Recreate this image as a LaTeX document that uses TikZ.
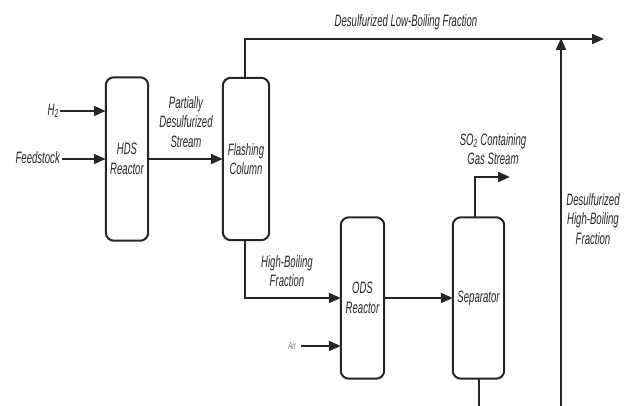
\documentclass[tikz,border=0pt]{standalone}
\usepackage{fontspec}
\setmainfont{Liberation Sans}[ItalicFeatures={FakeStretch=0.58}, UprightFeatures={FakeStretch=0.58}]
\usetikzlibrary{arrows.meta}
\begin{document}
\begin{tikzpicture}[x=1pt,y=-1pt,
  unit/.style={inner sep=0pt, align=center, text=black!85, font=\fontsize{16.5}{19.5}\selectfont\itshape},
  box/.style={draw=black!85, line width=2pt, rounded corners=8pt},
  lbl/.style={inner sep=0pt, align=center, text=black!85, font=\fontsize{16.5}{19.5}\selectfont\itshape},
  arr/.style={draw=black!85, line width=2pt, -{Triangle[length=12pt,width=10pt]}},
  ln/.style={draw=black!85, line width=2pt}]
\useasboundingbox (0,0) rectangle (627,406);
% units
\node[unit, minimum width=42pt, minimum height=163pt] (hds) at (127,159) {HDS\\Reactor};
\node[unit, minimum width=46pt, minimum height=162pt] (fc) at (246,159) {Flashing\\Column};
\node[unit, minimum width=43pt, minimum height=161pt] (ods) at (362.5,298) {ODS\\Reactor};
\node[unit, minimum width=51pt, minimum height=161pt] (sep) at (478.5,298) {Separator};
\foreach \n in {hds,fc,ods,sep} \draw[box] (\n.north west) rectangle (\n.south east);
% coordinates
\coordinate (h2s) at (60,111);
\coordinate (feeds) at (62,159);
\coordinate (lowend) at (604,39);
\coordinate (airs) at (301,346);
\coordinate (gasend) at (510,177);
\coordinate (sepbot) at (478.5,407);
\coordinate (hbbot) at (561,407);
\coordinate (hbtop) at (561,39);
% connectors
\draw[arr] (h2s) -- (h2s -| hds.west);
\draw[arr] (feeds) -- (feeds -| hds.west);
\draw[arr] (hds.east) -- (hds.east -| fc.west);
\draw[arr] ([xshift=-1.5pt]fc.north) |- (lowend);
\draw[arr] ([xshift=-1.5pt]fc.south) |- (ods.west);
\draw[arr] (airs) -- (airs -| ods.west);
\draw[arr] (ods.east) -- (sep.west);
\draw[arr] ([xshift=-3.5pt]sep.north) |- (gasend);
\draw[ln] (sep.south) -- (sepbot);
\draw[arr] (hbbot) -- ([yshift=1pt]hbtop);
% labels
\node[lbl, anchor=east] (h2l) at (59,111) {H\textsubscript{2}};
\node[lbl, anchor=east] (feedl) at (60,158) {Feedstock};
\node[lbl] (pdsl) at (186,122) {Partially\\Desulfurized\\Stream};
\node[lbl] (lowl) at (406,22) {Desulfurized Low-Boiling Fraction};
\node[lbl] (hbl) at (287,271) {High-Boiling\\Fraction};
\node[lbl, anchor=east, text=black!55, font=\fontsize{10.5}{12}\selectfont\itshape] (airl) at (296,346) {Air};
\node[lbl] (so2l) at (493,149) {SO\textsubscript{2} Containing\\Gas Stream};
\node[lbl] (dhbl) at (593,219) {Desulfurized\\High-Boiling\\Fraction};
\end{tikzpicture}
\end{document}
